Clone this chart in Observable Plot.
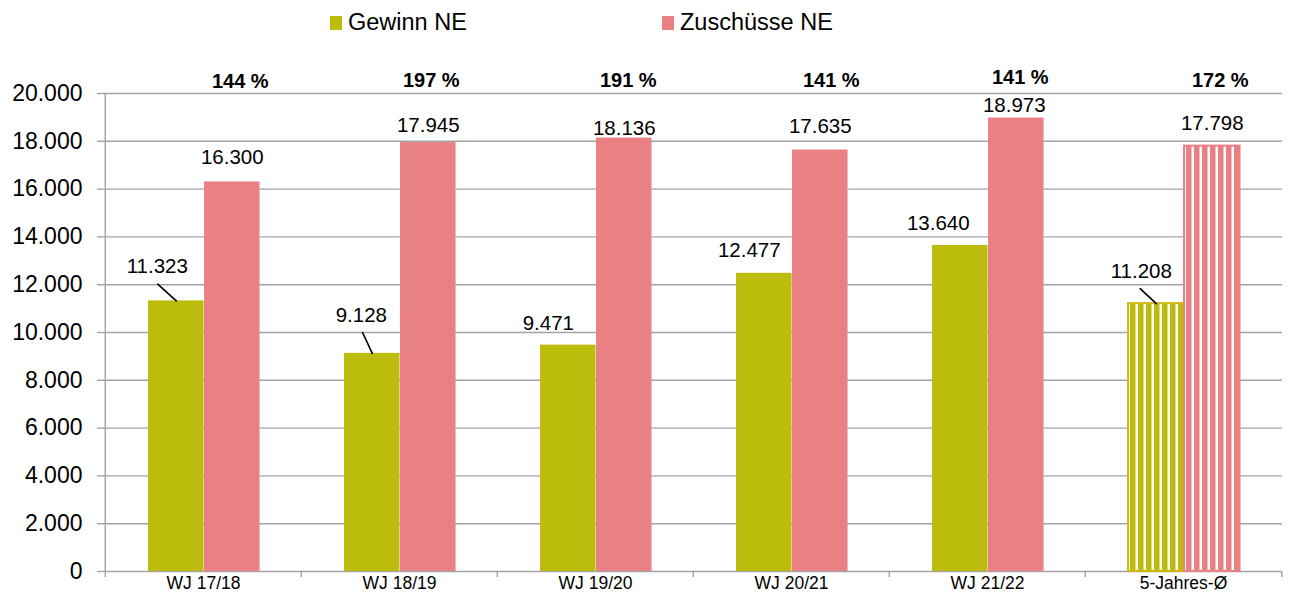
<!DOCTYPE html>
<html><head><meta charset="utf-8">
<script src="https://cdn.jsdelivr.net/npm/d3@7"></script>
<script src="https://cdn.jsdelivr.net/npm/@observablehq/plot@0.6"></script>
<style>
body{margin:0;background:#fff;font-family:"Liberation Sans",Arial,sans-serif;}
#legend{position:relative;height:45px;width:1290px;}
.item{position:absolute;top:9px;display:flex;align-items:center;font-size:23.5px;color:#000;line-height:27px;}
.sw{width:12px;height:14px;margin-right:6px;}
</style></head><body>
<div id="legend"></div><div id="chart"></div>
<script>
// ---- data ----
const categories = ["WJ 17/18", "WJ 18/19", "WJ 19/20", "WJ 20/21", "WJ 21/22", "5-Jahres-Ø"];
const gewinn = [11323, 9128, 9471, 12477, 13640, 11208];
const zuschuesse = [16300, 17945, 18136, 17635, 18973, 17798];
const quote = [144, 197, 191, 141, 141, 172];
const yTicks = [0, 2000, 4000, 6000, 8000, 10000, 12000, 14000, 16000, 18000, 20000];
const seriesNames = ["Gewinn NE", "Zuschüsse NE"];
const seriesColors = ["#bcbc0d", "#e98084"];

// ---- label layout (pixel nudges) ----
const greenLabelNudge = [[-19,-34],[-11,-38],[-20,-22],[-15,-23],[-22,-22],[-15,-32]];
const pinkLabelNudge  = [[0,-24],[0,-17],[0,-10],[0,-24],[-2,-13],[0,-23]];
const pctNudge        = [[8,-12],[3,-13],[4,-13],[11,-13],[4,-16],[8,-13]];
const leaders = [{i:0, len:25, rot:-48}, {i:1, len:23, rot:-25}, {i:5, len:22, rot:-47}];

const rows = categories.map((cat, i) => ({cat, gewinn: gewinn[i], zuschuss: zuschuesse[i], quote: quote[i]}));
const regular = rows.slice(0, 5);
const average = rows.slice(5);

const fmt = d3.formatLocale({decimal: ",", thousands: ".", grouping: [3], currency: ["", " €"]}).format(",d");

// legend
const legend = document.getElementById("legend");
[330, 662].forEach((left, k) => {
  const it = document.createElement("div");
  it.className = "item"; it.style.left = left + "px";
  it.innerHTML = `<span class="sw" style="background:${seriesColors[k]}"></span><span>${seriesNames[k]}</span>`;
  legend.appendChild(it);
});

const W = 1290, mL = 103, mR = 8;
const step = (W - mL - mR) / categories.length;
const padL = 0.219 * step, barW = 0.285 * step;
const gIns = {insetLeft: padL, insetRight: step - padL - barW};
const pIns = {insetLeft: padL + barW, insetRight: step - padL - 2 * barW};
const gOff = padL + barW / 2 - step / 2;
const pOff = padL + 1.5 * barW - step / 2;
const grid = "#a3a3a3";

const leaderShape = {draw(ctx, l) { ctx.moveTo(0, 0); ctx.lineTo(0, -l); }};

const chart = Plot.plot({
  width: W, height: 550,
  marginLeft: mL, marginRight: mR, marginTop: 48, marginBottom: 24,
  style: {fontFamily: "'Liberation Sans', Arial, sans-serif", background: "#fff", color: "#000"},
  x: {domain: categories, padding: 0, label: null},
  y: {domain: [0, 20000], label: null},
  marks: [
    Plot.gridY(yTicks, {stroke: grid, strokeOpacity: 1, strokeWidth: 1.4}),
    Plot.ruleX([categories[0]], {x: d => d, dx: -step / 2, y1: 0, y2: 20000, stroke: grid, strokeWidth: 1.4}),
    Plot.axisY(yTicks, {tickSize: 6, text: null, stroke: grid, strokeWidth: 1.4, label: null}),
    Plot.axisY(yTicks, {tickSize: 0, tickPadding: 21, tickFormat: fmt, fontSize: 23, fill: "#000", label: null}),
    Plot.axisX(categories, {tickSize: 6, text: null, dx: -step / 2, stroke: grid, strokeWidth: 1.4, label: null}),
    Plot.axisX([categories[categories.length - 1]], {tickSize: 6, text: null, dx: step / 2, stroke: grid, strokeWidth: 1.4, label: null}),
    Plot.axisX(categories, {tickSize: 0, tickPadding: 5, fontSize: 17.5, fill: "#000", label: null}),
    Plot.barY(regular, {x: "cat", y: "gewinn", fill: seriesColors[0], ...gIns}),
    Plot.barY(regular, {x: "cat", y: "zuschuss", fill: seriesColors[1], ...pIns}),
    Plot.barY(average, {x: "cat", y: "gewinn", fill: "url(#hatchG)", stroke: "#d2b80c", strokeWidth: 2, ...gIns}),
    Plot.barY(average, {x: "cat", y: "zuschuss", fill: "url(#hatchP)", stroke: seriesColors[1], strokeWidth: 2, ...pIns}),
    ...rows.map((r, i) => Plot.text([r], {x: "cat", y: "gewinn", text: d => fmt(d.gewinn), fontSize: 20.5, fill: "#000",
      dx: gOff + greenLabelNudge[i][0], dy: greenLabelNudge[i][1]})),
    ...rows.map((r, i) => Plot.text([r], {x: "cat", y: "zuschuss", text: d => fmt(d.zuschuss), fontSize: 20.5, fill: "#000",
      dx: pOff + pinkLabelNudge[i][0], dy: pinkLabelNudge[i][1]})),
    ...rows.map((r, i) => Plot.text([r], {x: "cat", frameAnchor: "top", lineAnchor: "middle", text: d => d.quote + " %", fontSize: 20, fontWeight: "bold", fill: "#000",
      dx: pOff + pctNudge[i][0], dy: pctNudge[i][1]})),
    ...leaders.map(l => Plot.vector([rows[l.i]], {x: "cat", y: "gewinn", dx: gOff, anchor: "start", length: l.len, rotate: l.rot,
      shape: leaderShape, stroke: "#000", strokeWidth: 1.6}))
  ]
});

const svg = d3.select(chart);
const defs = svg.insert("defs", ":first-child");
[["hatchG", seriesColors[0]], ["hatchP", seriesColors[1]]].forEach(([id, c]) => {
  const p = defs.append("pattern").attr("id", id).attr("patternUnits", "userSpaceOnUse").attr("width", 8).attr("height", 8);
  p.append("rect").attr("width", 8).attr("height", 8).attr("fill", "#fff");
  p.append("rect").attr("x", 2).attr("width", 5.5).attr("height", 8).attr("fill", c);
});
document.getElementById("chart").appendChild(chart);
</script>
</body></html>
